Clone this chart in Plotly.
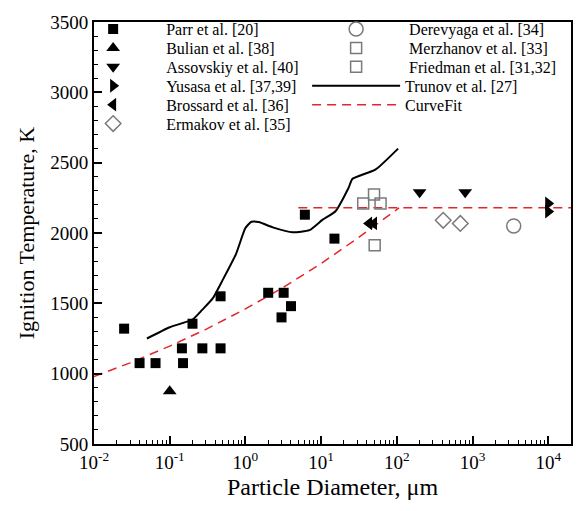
import plotly.graph_objects as go

# ---- data ----
parr_d = [0.025, 0.04, 0.065, 0.145, 0.15, 0.2, 0.27, 0.47, 0.47, 2.0, 3.2, 3.0, 4.0, 6.1, 15.0]
parr_T = [1320, 1075, 1075, 1180, 1075, 1355, 1180, 1180, 1550, 1575, 1575, 1400, 1480, 2130, 1960]
bulian_d = [0.1]
bulian_T = [875]
assov_d = [200, 800]
assov_T = [2290, 2290]
yusasa_d = [10000, 10000]
yusasa_T = [2210, 2152]
bross_d = [43, 50]
bross_T = [2068, 2068]
ermakov_d = [410, 690]
ermakov_T = [2090, 2068]
derev_d = [3500]
derev_T = [2050]
merzh_d = [36, 61]
merzh_T = [2210, 2210]
fried_d = [50, 51]
fried_T = [2273, 1913]
trunov_d = [0.05, 0.1, 0.2, 0.27, 0.37, 0.5, 0.75, 1.0, 1.2, 1.5, 2.3, 4.2, 7.0, 10.5, 15.5, 23, 26, 52, 104]
trunov_T = [1250, 1330, 1385, 1455, 1535, 1665, 1850, 2035, 2080, 2078, 2040, 2005, 2020, 2095, 2155, 2320, 2385, 2450, 2600]
fit_d = [0.01, 0.03, 0.1, 0.3, 1, 3, 10, 30, 107, None, 5, 20000]
fit_T = [980, 1077, 1196, 1315, 1460, 1606, 1783, 1961, 2178, None, 2180, 2180]

x_tickvals = [0.01, 0.1, 1, 10, 100, 1000, 10000]
x_ticktext = ["10<sup>-2</sup>", "10<sup>-1</sup>", "10<sup>0</sup>", "10<sup>1</sup>",
              "10<sup>2</sup>", "10<sup>3</sup>", "10<sup>4</sup>"]
y_tickvals = [500, 1000, 1500, 2000, 2500, 3000, 3500]

FONT = "Liberation Serif, Times New Roman, serif"
GRAY = "#7a7a7a"

# legend layout: (column, row) for each entry
PLOT_L, PLOT_W, PLOT_B, PLOT_H = 94, 479, 444, 431
ROW_Y = [20.3, 39.6, 58.9, 78.2, 97.5, 116.8]

fig = go.Figure()
legends = {}
counter = [0]

def add_legend(col, row, kind):
    counter[0] += 1
    key = "legend" if counter[0] == 1 else f"legend{counter[0]}"
    if kind == "line":
        iw, left = 88, 308
    elif col == 0:
        iw, left = 96, 60
    else:
        iw, left = 96, 304
    legends[key] = dict(
        x=(left - PLOT_L) / PLOT_W, y=(PLOT_B - ROW_Y[row]) / PLOT_H,
        xanchor="left", yanchor="middle", orientation="v",
        bgcolor="rgba(0,0,0,0)", borderwidth=0, itemwidth=iw,
        font=dict(family=FONT, size=16, color="black"),
    )
    return key

def mk(name, d, T, symbol, size, col, row, color="black", open_=False, lw=1.5):
    if open_:
        marker = dict(symbol=symbol, size=size, color=color, line=dict(color=color, width=lw))
    else:
        marker = dict(symbol=symbol, size=size, color=color, line=dict(width=0))
    key = add_legend(col, row, "marker")
    fig.add_trace(go.Scatter(x=d, y=T, mode="markers", name=name, marker=marker, legend=key))

# lines first so markers sit on top
key = add_legend(1, 3, "line")
fig.add_trace(go.Scatter(x=trunov_d, y=trunov_T, mode="lines", name="Trunov et al. [27]",
                         line=dict(color="black", width=2, shape="spline", smoothing=0.5),
                         legend=key))
key = add_legend(1, 4, "line")
fig.add_trace(go.Scatter(x=fit_d, y=fit_T, mode="lines", name="CurveFit",
                         line=dict(color="#e3262b", width=1.5, dash="9px,6px"), legend=key))

mk("Parr et al. [20]", parr_d, parr_T, "square", 10, 0, 0)
mk("Bulian et al. [38]", bulian_d, bulian_T, "triangle-up", 12, 0, 1)
mk("Assovskiy et al. [40]", assov_d, assov_T, "triangle-down", 12, 0, 2)
mk("Yusasa et al. [37,39]", yusasa_d, yusasa_T, "triangle-right", 12, 0, 3)
mk("Brossard et al. [36]", bross_d, bross_T, "triangle-left", 12, 0, 4)
mk("Ermakov et al. [35]", ermakov_d, ermakov_T, "diamond-open", 12, 0, 5, GRAY, True)
mk("Derevyaga et al. [34]", derev_d, derev_T, "circle-open", 14, 1, 0, GRAY, True)
mk("Merzhanov et al. [33]", merzh_d, merzh_T, "square-open", 11, 1, 1, GRAY, True)
mk("Friedman et al. [31,32]", fried_d, fried_T, "square-open", 11, 1, 2, GRAY, True)

fig.update_layout(
    width=585, height=511,
    margin=dict(l=94, r=12, t=13, b=67),
    paper_bgcolor="white", plot_bgcolor="white",
    font=dict(family=FONT, color="black", size=16),
    showlegend=True,
    xaxis=dict(
        type="log", range=[-2, 4.301],
        tickvals=x_tickvals, ticktext=x_ticktext,
        ticks="inside", ticklen=8, tickwidth=1.5, tickcolor="black",
        minor=dict(
            tickvals=[m * 10 ** e for e in range(-2, 5) for m in range(2, 10) if m * 10 ** e <= 20000],
            ticks="inside", ticklen=4, tickwidth=1, tickcolor="black"),
        showline=True, linecolor="black", linewidth=2, mirror=True,
        showgrid=False, zeroline=False,
        tickfont=dict(family=FONT, size=19),
        title=dict(text="Particle Diameter, μm", font=dict(family=FONT, size=24), standoff=6),
    ),
    yaxis=dict(
        range=[500, 3500],
        tickvals=y_tickvals,
        ticks="inside", ticklen=8, tickwidth=1.5, tickcolor="black",
        minor=dict(dtick=100, ticks="inside", ticklen=4, tickwidth=1, tickcolor="black"),
        showline=True, linecolor="black", linewidth=2, mirror=True,
        showgrid=False, zeroline=False,
        tickfont=dict(family=FONT, size=19),
        title=dict(text="Ignition Temperature, K", font=dict(family=FONT, size=22), standoff=10),
    ),
    **legends,
)

fig.write_html("out.html")
